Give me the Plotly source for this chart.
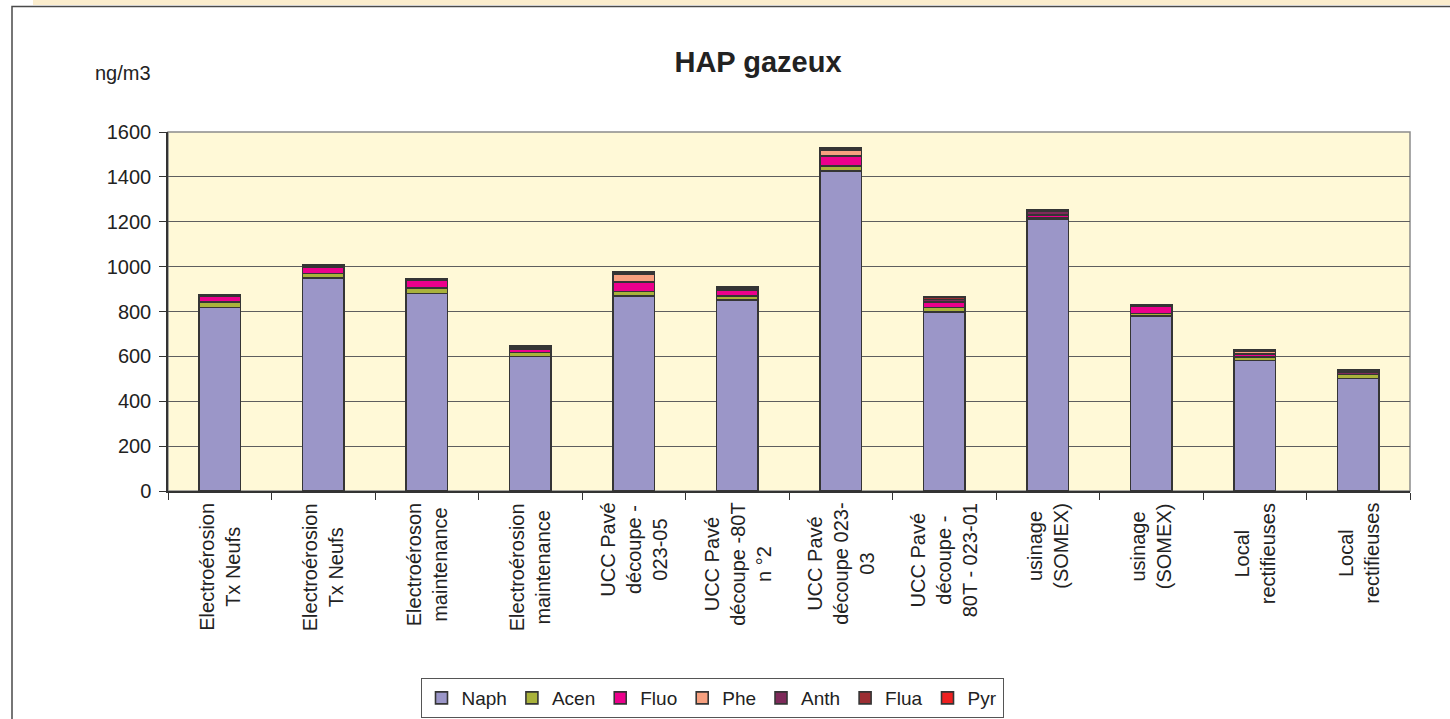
"""Stacked bar chart of gaseous PAH concentrations (HAP gazeux)."""

import plotly.graph_objects as go

# --- data -----------------------------------------------------------------
categories = [
    "Electroérosion<br>Tx Neufs",
    "Electroérosion<br>Tx Neufs",
    "Electroéroson<br>maintenance",
    "Electroérosion<br>maintenance",
    "UCC Pavé<br>découpe -<br>023-05",
    "UCC Pavé<br>découpe -80T<br>n °2",
    "UCC Pavé<br>découpe 023-<br>03",
    "UCC Pavé<br>découpe -<br>80T - 023-01",
    "usinage<br>(SOMEX)",
    "usinage<br>(SOMEX)",
    "Local<br>rectifieuses",
    "Local<br>rectifieuses",
]

naph = [818, 950, 880, 600, 868, 850, 1427, 797, 1210, 780, 581, 501]
acen = [25, 20, 25, 18, 22, 18, 22, 20, 8, 12, 15, 18]
fluo = [25, 26, 35, 15, 42, 27, 43, 25, 12, 33, 15, 0]
phe = [0, 0, 0, 0, 34, 0, 27, 0, 3, 0, 13, 0]
anth = [3, 5, 2, 8, 7, 7, 6, 12, 12, 3, 3, 12]
flua = [2, 5, 2, 7, 6, 6, 5, 10, 8, 2, 2, 9]
pyr = [0, 0, 0, 0, 0, 0, 0, 0, 2, 0, 0, 0]

series_names = ["Naph", "Acen", "Fluo", "Phe", "Anth", "Flua", "Pyr"]
series_values = [naph, acen, fluo, phe, anth, flua, pyr]
series_colors = ["#9B96C8", "#A9B23B", "#EC008C", "#F7A07F",
                 "#7E2A5A", "#9C2E33", "#EE2020"]

y_ticks = [0, 200, 400, 600, 800, 1000, 1200, 1400, 1600]

# --- layout geometry (pixels) ---------------------------------------------
W, H = 1450, 719
PL, PR, PT, PB = 168, 1410, 132, 491
FONT = "Liberation Sans, Arial, sans-serif"


def px_x(x):
    return (x - PL) / (PR - PL)


def px_y(y):
    return (PB - y) / (PB - PT)


positions = list(range(len(categories)))

fig = go.Figure()
for name, vals, color in zip(series_names, series_values, series_colors):
    fig.add_trace(go.Bar(
        x=positions, y=[v if v else None for v in vals], name=name,
        marker=dict(color=color, line=dict(color="#353535", width=1.6)),
    ))

# category labels, rotated with centred lines
for i, label in enumerate(categories):
    fig.add_annotation(
        x=i, y=0, xref="x", yref="paper", text=label, textangle=-90,
        showarrow=False, xanchor="center", yanchor="top", align="center",
        yshift=-10, font=dict(family=FONT, size=20, color="#222222"),
    )

fig.add_annotation(
    x=px_x(123), y=px_y(73), xref="paper", yref="paper", text="ng/m3",
    showarrow=False, xanchor="center", yanchor="middle",
    font=dict(family=FONT, size=20, color="#222222"),
)

shapes = [
    # plot area frame
    dict(type="rect", xref="paper", yref="paper", x0=0, x1=1, y0=0, y1=1,
         line=dict(color="#8C8C8C", width=1.5), layer="below"),
    # strip above the chart box
    dict(type="rect", xref="paper", yref="paper", x0=px_x(33), x1=px_x(W),
         y0=px_y(5), y1=px_y(0), line=dict(width=0), fillcolor="#FBEDCD"),
    # chart box border
    dict(type="path", xref="paper", yref="paper",
         path=f"M {px_x(12)},{px_y(H + 5)} L {px_x(12)},{px_y(6.5)} L {px_x(W + 5)},{px_y(6.5)}",
         line=dict(color="#4A4A4A", width=1.5)),
]

fig.update_layout(
    width=W, height=H,
    margin=dict(l=PL, r=W - PR, t=PT, b=H - PB, autoexpand=False),
    barmode="stack", bargap=0.6,
    paper_bgcolor="white", plot_bgcolor="#FFF9D7",
    font=dict(family=FONT, size=19, color="#222222"),
    title=dict(text="<b>HAP gazeux</b>", x=758 / W,
               xanchor="center", y=1 - 62 / H, yanchor="middle",
               font=dict(family=FONT, size=29, color="#222222")),
    showlegend=True,
    legend=dict(orientation="h", x=px_x(712), xanchor="center",
                y=px_y(678), yanchor="top", bgcolor="white",
                bordercolor="#555555", borderwidth=1,
                font=dict(family=FONT, size=19, color="#222222"),
                itemwidth=30, traceorder="normal"),
    shapes=shapes,
)

fig.update_xaxes(
    range=[-0.5, len(categories) - 0.5], showticklabels=False,
    showline=True, linecolor="#333333", linewidth=1.5,
    showgrid=False, zeroline=False, ticks="", automargin=False,
    minor=dict(tickmode="linear", tick0=-0.5, dtick=1, ticks="outside",
               ticklen=7, tickcolor="#333333", tickwidth=1, showgrid=False),
)

fig.update_yaxes(
    range=[0, 1600], tickvals=y_ticks, ticks="outside", ticklen=7,
    tickcolor="#333333", showline=True, linecolor="#333333", linewidth=1.5,
    showgrid=True, gridcolor="#5E5E5E", gridwidth=1, zeroline=False,
    tickfont=dict(family=FONT, size=20, color="#222222"),
    ticklabelstandoff=4, automargin=False,
)

fig.write_html("out.html", config={"displayModeBar": False},
               post_script="document.body.style.margin = '0';")
